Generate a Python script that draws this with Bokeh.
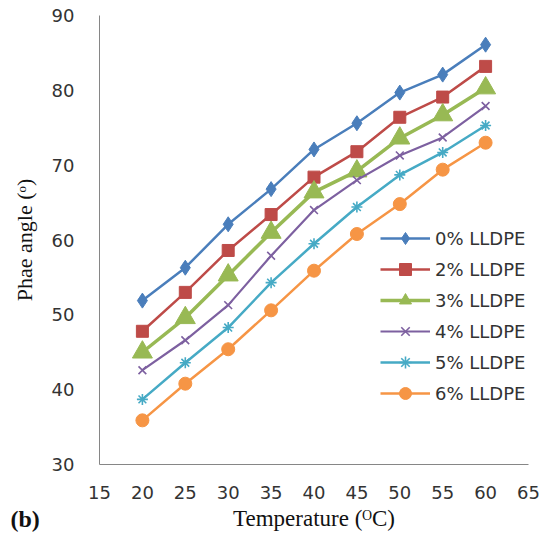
from bokeh.plotting import figure
from bokeh.models import Range1d, SingleIntervalTicker, Legend, LegendItem, Label
from bokeh.embed import file_html
from bokeh.resources import INLINE

temperature = [20, 25, 30, 35, 40, 45, 50, 55, 60]
lldpe_0 = [51.9, 56.3, 62.1, 66.8, 72.1, 75.6, 79.7, 82.1, 86.1]
lldpe_2 = [47.8, 53.0, 58.6, 63.4, 68.4, 71.8, 76.4, 79.1, 83.2]
lldpe_3 = [45.0, 49.6, 55.3, 61.0, 66.4, 69.2, 73.6, 76.7, 80.3]
lldpe_4 = [42.6, 46.6, 51.3, 57.9, 64.0, 68.0, 71.3, 73.7, 77.9]
lldpe_5 = [38.7, 43.6, 48.3, 54.3, 59.5, 64.4, 68.7, 71.7, 75.3]
lldpe_6 = [35.9, 40.8, 45.4, 50.6, 55.9, 60.8, 64.8, 69.4, 73.0]
series_names = ["0% LLDPE", "2% LLDPE", "3% LLDPE", "4% LLDPE", "5% LLDPE", "6% LLDPE"]
x_axis_bounds = (15, 65)
y_axis_bounds = (30, 90)

W, H = 549, 533
# pixel margins around the axes box (the frame fills the whole canvas)
m_left, m_right, m_top, m_bottom = 99, 21, 15, 69
xs = (x_axis_bounds[1] - x_axis_bounds[0]) / (W - m_left - m_right)
ys = (y_axis_bounds[1] - y_axis_bounds[0]) / (H - m_top - m_bottom)
x_range = Range1d(x_axis_bounds[0] - m_left * xs, x_axis_bounds[1] + m_right * xs)
y_range = Range1d(y_axis_bounds[0] - m_bottom * ys, y_axis_bounds[1] + m_top * ys)

p = figure(width=W, height=H, output_backend="svg", toolbar_location=None,
           x_range=x_range, y_range=y_range, min_border=0)
p.outline_line_color = None
p.xgrid.visible = False
p.ygrid.visible = False
p.background_fill_color = "white"
p.border_fill_color = "white"

p.xaxis.ticker = SingleIntervalTicker(interval=5)
p.yaxis.ticker = SingleIntervalTicker(interval=10)
p.xaxis.bounds = x_axis_bounds
p.yaxis.bounds = y_axis_bounds
p.xaxis.fixed_location = y_axis_bounds[0]
p.yaxis.fixed_location = x_axis_bounds[0]
for ax in (p.xaxis[0], p.yaxis[0]):
    ax.axis_line_color = "#868686"
    ax.axis_line_width = 1
    ax.major_tick_out = 0
    ax.major_tick_in = 0
    ax.minor_tick_out = 0
    ax.minor_tick_in = 0
    ax.major_label_text_font = "DejaVu Sans"
    ax.major_label_text_font_size = "18px"
    ax.major_label_text_color = "#333333"
    ax.axis_label_text_font = "Liberation Serif"
    ax.axis_label_text_font_style = "normal"
    ax.axis_label_text_color = "#111111"
p.yaxis.axis_label_text_font_size = "22px"
p.xaxis.axis_label_text_font_size = "23px"
p.yaxis.major_label_standoff = 25
p.xaxis.major_label_standoff = 21
p.yaxis.axis_label = "Phae angle (\u1d52)"
p.xaxis.axis_label = "Temperature (\u1d3cC)"
p.yaxis.axis_label_standoff = 12
p.xaxis.axis_label_standoff = 4

styles = [
    (lldpe_0, "#4A7EBB", "diamond", 15, 2.5),
    (lldpe_2, "#BE4B48", "square", 12, 2.5),
    (lldpe_3, "#98B954", "triangle", 20, 3.5),
    (lldpe_4, "#7D60A0", "x", 11, 2.2),
    (lldpe_5, "#46AAC5", "asterisk", 11, 2.5),
    (lldpe_6, "#F69545", "circle", 13, 2.5),
]
items = []
for (vals, color, marker, size, lw), name in zip(styles, series_names):
    r1 = p.line(temperature, vals, line_color=color, line_width=lw)
    mk_lw = 1.6 if marker in ("x", "asterisk") else 1
    r2 = p.scatter(temperature, vals, marker=marker, size=size,
                   fill_color=color, line_color=color, line_width=mk_lw)
    items.append(LegendItem(label=name, renderers=[r1, r2]))

legend = Legend(items=items, location=(380, 125), padding=0, margin=0,
                border_line_color=None, background_fill_alpha=0,
                glyph_width=50, glyph_height=30, label_height=30, spacing=1,
                label_standoff=5, label_text_font="DejaVu Sans",
                label_text_font_size="18px", label_text_color="#333333")
p.add_layout(legend)

p.add_layout(Label(x=10, y=2, x_units="screen", y_units="screen", text="(b)",
                   text_font="Liberation Serif", text_font_style="bold",
                   text_font_size="24px", text_color="#111111"))

open("out.html", "w").write(file_html(p, INLINE))
